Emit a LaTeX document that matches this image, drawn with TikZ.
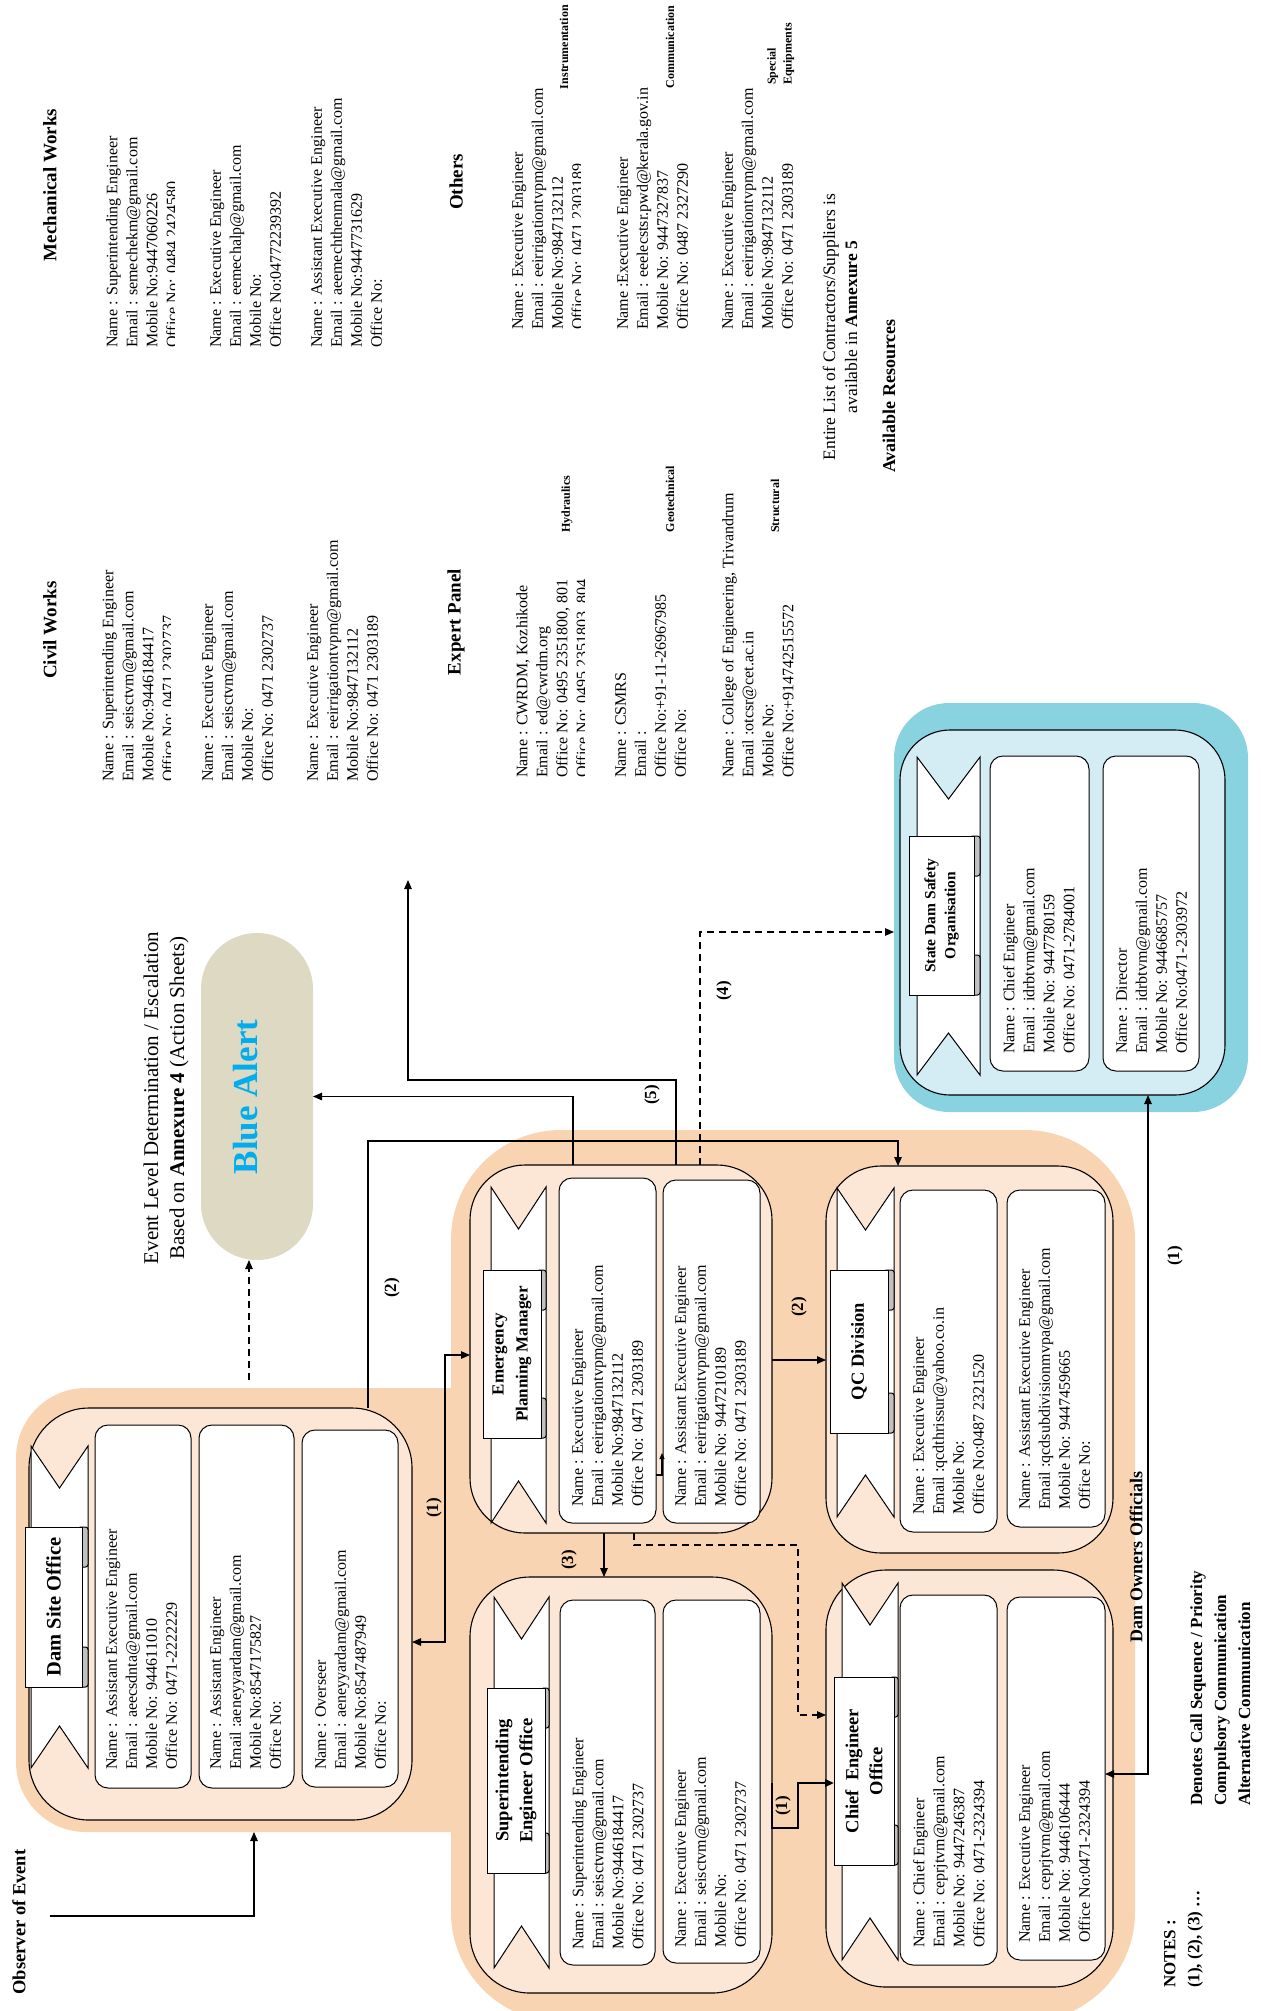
\documentclass[tikz,border=0pt]{standalone}
\usepackage{fontspec}
\setmainfont{Liberation Serif}
\usetikzlibrary{arrows.meta}
\definecolor{orangebg}{RGB}{249,212,178}
\definecolor{peach}{RGB}{252,231,215}
\definecolor{blueouter}{RGB}{137,211,224}
\definecolor{blueinner}{RGB}{212,236,243}
\definecolor{pillbg}{RGB}{221,217,194}
\definecolor{alertblue}{RGB}{0,174,239}
\definecolor{curlgray}{RGB}{192,192,192}
\tikzset{
 myline/.style={draw=black, line width=1pt},
 mybg/.style={fill=orangebg, anchor=north west, inner sep=0pt, outer sep=0pt},
 myinner/.style={draw=black, line width=1.1pt, fill=peach, anchor=north west, inner sep=0pt, outer sep=0pt},
 mytbox/.style={draw=black, line width=1pt, fill=white, rounded corners=13pt, anchor=north west, inner sep=0pt, outer sep=0pt},
 mypanel/.style={draw=black, line width=1pt, fill=white, anchor=north west, inner sep=0pt, outer sep=0pt},
 mytxt/.style={rotate=90, anchor=north west, align=left, inner sep=0pt, font=\fontsize{16}{20}\selectfont},
 myhead/.style={rotate=90, inner sep=0pt, font=\bfseries\fontsize{19}{23}\selectfont},
 mylab/.style={rotate=90, inner sep=0pt, font=\bfseries\fontsize{12}{16}\selectfont},
 mynum/.style={rotate=90, inner sep=0pt, font=\bfseries\fontsize{17}{20}\selectfont},
 mytitle/.style={rotate=90, align=center, inner sep=0pt},
 myconn/.style={line width=1.1pt},
 myarr/.style={myconn, -{Triangle[length=9pt,width=7.5pt]}},
 mydarr/.style={myarr, dash pattern=on 7pt off 5pt},
 myarrtwo/.style={myconn, {Triangle[length=9pt,width=7.5pt]}-{Triangle[length=9pt,width=7.5pt]}},
}
% name, tail left, tail right, tail top, tail bottom, panel left, panel right, panel top, panel bottom
\newcommand{\myribbon}[9]{%
 \draw[myline, fill=white] (#2,#4) -- ({(#2+#3)/2},{#4+42}) -- (#3,#4) -- (#3,#5) -- ({(#2+#3)/2},{#5-42}) -- (#2,#5) -- cycle;
 \draw[myline, fill=curlgray, rounded corners=2.5pt] ({#7-4},#8) rectangle (#3,{#8+40});
 \draw[myline, fill=curlgray, rounded corners=2.5pt] ({#7-4},{#9-40}) rectangle (#3,#9);
 \node[mypanel, minimum width={#7-#6}, minimum height={#9-#8}] (#1) at (#6,#8) {};
}
\newcommand{\mytb}[5]{\node[mytbox, minimum width=#4, minimum height=#5] (#1) at (#2,#3) {};}
\begin{document}
\begin{tikzpicture}[x=1pt,y=-1pt]
\useasboundingbox (0,0) rectangle (1261,2011);
\fill[white] (0,0) rectangle (1261,2011);

% ---------- headings of available resources ----------
\node[myhead] (hmech) at (50,185) {Mechanical Works};
\node[myhead] (hcivil) at (50,630) {Civil Works};
\node[myhead] (hothers) at (456,182) {Others};
\node[myhead] (hexpert) at (456,622) {Expert Panel};

% Mechanical works
\begin{scope}
\clip (90,60) rectangle (174,360);
\node[mytxt] (mech1) at (106,348) {Name : Superintending Engineer\\Email : semechekm@gmail.com\\Mobile No:9447060226\\Office No: 0484 2424580};
\end{scope}
\node[mytxt] (mech2) at (210,348) {Name : Executive Engineer\\Email : eemechalp@gmail.com\\Mobile No:\\Office No:04772239392};
\node[mytxt] (mech3) at (311,348) {Name : Assistant Executive Engineer\\Email : aeemechthenmala@gmail.com\\Mobile No:9447731629\\Office No:};

% Civil works
\begin{scope}
\clip (85,500) rectangle (170,800);
\node[mytxt] (civil1) at (102,782) {Name : Superintending Engineer\\Email : seisctvm@gmail.com\\Mobile No:9446184417\\Office No: 0471 2302737};
\end{scope}
\node[mytxt] (civil2) at (202,782) {Name : Executive Engineer\\Email : seisctvm@gmail.com\\Mobile No:\\Office No: 0471 2302737};
\node[mytxt] (civil3) at (307,782) {Name : Executive Engineer\\Email : eeirrigationtvpm@gmail.com\\Mobile No:9847132112\\Office No: 0471 2303189};

% Others
\begin{scope}
\clip (495,40) rectangle (580,345);
\node[mytxt] (oth1) at (512,330) {Name : Executive Engineer\\Email : eeirrigationtvpm@gmail.com\\Mobile No:9847132112\\Office No: 0471 2303189};
\end{scope}
\node[mytxt] (oth2) at (617,330) {Name :Executive Engineer\\Email : eeelecstsr.pwd@kerala.gov.in\\Mobile No: 9447327837\\Office No: 0487 2327290};
\node[mytxt] (oth3) at (722,330) {Name : Executive Engineer\\Email : eeirrigationtvpm@gmail.com\\Mobile No:9847132112\\Office No: 0471 2303189};
\node[mylab] (linstr) at (564,47) {Instrumentation};
\node[mylab] (lcomm) at (670,47) {Communication};
\node[mylab, anchor=north west, align=left] (lspec) at (767,85) {Special\\Equipments};

% Expert panel
\begin{scope}
\clip (500,450) rectangle (584,800);
\node[mytxt] (exp1) at (516,778) {Name : CWRDM, Kozhikode\\Email : ed@cwrdm.org\\Office No: 0495 2351800, 801\\Office No: 0495 2351803, 804};
\end{scope}
\node[mytxt] (exp2) at (615,778) {Name : CSMRS\\Email :\\Office No:+91-11-26967985\\Office No:};
\node[mytxt] (exp3) at (722,778) {Name : College of Engineering, Trivandrum\\Email :otcsr@cet.ac.in\\Mobile No:\\Office No:+914742515572};
\node[mylab] (lhyd) at (567,504) {Hydraulics};
\node[mylab] (lgeo) at (670,499) {Geotechnical};
\node[mylab] (lstr) at (775,506) {Structural};

\node[rotate=90, align=center, inner sep=0pt, font=\fontsize{17.5}{22}\selectfont] (entire) at (840,327) {Entire List of Contractors/Suppliers is\\available in \textbf{Annexure 5}};
\node[myhead, font=\bfseries\fontsize{18}{22}\selectfont] (avail) at (889,396) {Available Resources};

% ---------- Event level / Blue alert ----------
\node[rotate=90, align=center, inner sep=0pt, font=\fontsize{21}{26}\selectfont] (event) at (166,1098) {Event Level Determination / Escalation\\Based on \textbf{Annexure 4} (Action Sheets)};
\node[fill=pillbg, rounded corners=55.9pt, minimum width=112, minimum height=327, anchor=north west, inner sep=0pt, outer sep=0pt] (alert) at (201,933) {};
\node[rotate=90, inner sep=0pt, text=alertblue, font=\bfseries\fontsize{35}{40}\selectfont] (alerttxt) at (246,1097) {Blue Alert};

% ---------- backgrounds ----------
\node[fill=blueouter, rounded corners=55pt, minimum width=354, minimum height=409, anchor=north west, inner sep=0pt, outer sep=0pt] (sdsobg) at (894,703) {};
\node[mybg, rounded corners=70pt, minimum width=504, minimum height=444] (dsobg) at (16,1388) {};
\node[mybg, rounded corners=110pt, minimum width=684, minimum height=892] (owners) at (451,1130) {};

% ---------- office boxes ----------
\node[myinner, fill=blueinner, rounded corners=50pt, minimum width=325, minimum height=365] (sdso) at (900,730) {};
\node[myinner, rounded corners=60pt, minimum width=383, minimum height=412] (dso) at (29,1408) {};
\node[myinner, rounded corners=55pt, minimum width=302, minimum height=368] (epm) at (470,1165) {};
\node[myinner, rounded corners=55pt, minimum width=287, minimum height=387] (qc) at (826,1166) {};
\node[myinner, rounded corners=60pt, minimum width=302, minimum height=416] (seo) at (470,1577) {};
\node[myinner, rounded corners=60pt, minimum width=287, minimum height=417] (ceo) at (826,1570) {};

% text boxes
\mytb{dsob1}{95}{1425}{96}{363}
\mytb{dsob2}{199}{1425}{95}{363}
\mytb{dsob3}{302}{1430}{96}{357}
\mytb{epmb1}{559}{1178}{97}{345}
\mytb{epmb2}{663}{1180}{97}{343}
\mytb{qcb1}{900}{1190}{97}{342}
\mytb{qcb2}{1007}{1190}{98}{337}
\mytb{seob1}{560}{1600}{95}{365}
\mytb{seob2}{663}{1600}{97}{363}
\mytb{ceob1}{900}{1595}{97}{370}
\mytb{ceob2}{1007}{1597}{98}{363}
\mytb{sdsob1}{990}{756}{99}{315}
\mytb{sdsob2}{1103}{756}{96}{315}

% ribbons
\myribbon{dsopanel}{31}{88}{1446}{1768}{25}{82}{1527}{1687}
\myribbon{epmpanel}{491}{546}{1187}{1523}{483}{541}{1270}{1438}
\myribbon{qcpanel}{837}{894}{1188}{1517}{830}{888}{1270}{1433}
\myribbon{seopanel}{494}{549}{1597}{1968}{487}{545}{1688}{1873}
\myribbon{ceopanel}{842}{898}{1583}{1960}{834}{894}{1677}{1865}
\myribbon{sdsopanel}{917}{980}{757}{1075}{909}{974}{836}{995}

\node[mytitle, font=\bfseries\fontsize{20.5}{24}\selectfont] (dsotitle) at (dsopanel.center) {Dam Site Office};
\node[mytitle, font=\bfseries\fontsize{17}{24}\selectfont] (epmtitle) at (epmpanel.center) {Emergency\\Planning Manager};
\node[mytitle, font=\bfseries\fontsize{18.5}{24}\selectfont] (qctitle) at (qcpanel.center) {QC Division};
\node[mytitle, font=\bfseries\fontsize{18.5}{24}\selectfont] (seotitle) at (seopanel.center) {Superintending\\Engineer Office};
\node[mytitle, font=\bfseries\fontsize{18.5}{24}\selectfont] (ceotitle) at (ceopanel.center) {Chief~ Engineer\\Office};
\node[mytitle, font=\bfseries\fontsize{15.5}{20}\selectfont] (sdsotitle) at (sdsopanel.center) {State Dam Safety\\Organisation};

% texts in boxes
\node[mytxt] (dsot1) at (106,1770) {Name : Assistant Executive Engineer\\Email : aeecsdnta@gmail.com\\Mobile No: 944611010\\Office No: 0471-2222229};
\node[mytxt] (dsot2) at (210,1770) {Name : Assistant Engineer\\Email :aeneyyardam@gmail.com\\Mobile No:8547175827\\Office No:};
\node[mytxt] (dsot3) at (315,1770) {Name : Overseer\\Email : aeneyyardam@gmail.com\\Mobile No:8547487949\\Office No:};
\node[mytxt] (epmt1) at (572,1507) {Name : Executive Engineer\\Email : eeirrigationtvpm@gmail.com\\Mobile No:9847132112\\Office No: 0471 2303189};
\node[mytxt] (epmt2) at (675,1507) {Name : Assistant Executive Engineer\\Email : eeirrigationtvpm@gmail.com\\Mobile No: 9447210189\\Office No: 0471 2303189};
\node[mytxt] (qct1) at (913,1515) {Name : Executive Engineer\\Email :qcdthrissur@yahoo.co.in\\Mobile No:\\Office No:0487 2321520};
\node[mytxt] (qct2) at (1019,1510) {Name : Assistant Executive Engineer\\Email :qcdsubdivisionmvpa@gmail.com\\Mobile No: 9447459665\\Office No:};
\node[mytxt] (seot1) at (572,1950) {Name : Superintending Engineer\\Email : seisctvm@gmail.com\\Mobile No:9446184417\\Office No: 0471 2302737};
\node[mytxt] (seot2) at (675,1948) {Name : Executive Engineer\\Email : seisctvm@gmail.com\\Mobile No:\\Office No: 0471 2302737};
\node[mytxt] (ceot1) at (913,1948) {Name : Chief Engineer\\Email : ceprjtvm@gmail.com\\Mobile No: 9447246387\\Office No: 0471-2324394};
\node[mytxt] (ceot2) at (1019,1943) {Name : Executive Engineer\\Email : ceprjtvm@gmail.com\\Mobile No: 9446106444\\Office No:0471-2324394};
\node[mytxt] (sdsot1) at (1003,1054) {Name : Chief Engineer\\Email : idrbtvm@gmail.com\\Mobile No: 9447780159\\Office No: 0471-2784001};
\node[mytxt] (sdsot2) at (1116,1054) {Name : Director\\Email : idrbtvm@gmail.com\\Mobile No: 9446685757\\Office No:0471-2303972};

% other labels
\node[myhead, font=\bfseries\fontsize{18}{22}\selectfont] (ownlabel) at (1136,1557) {Dam Owners Officials};
\node[myhead, font=\bfseries\fontsize{18.5}{22}\selectfont] (obs) at (19,1922) {Observer of Event};
\node[mytxt, font=\bfseries\fontsize{17}{24}\selectfont] (notes) at (1164,1988) {NOTES :\\(1), (2), (3) …};
\node[mytxt, font=\bfseries\fontsize{17}{24}\selectfont] (legend) at (1190,1806) {Denotes Call Sequence / Priority\\Compulsory Communication\\Alternative Communication};

% ---------- connectors ----------
\coordinate (obsstart) at (50,1916);
\draw[myarr] (obsstart) -| (dsobg.south -| 254,0);
\coordinate (dashstart) at (249,1380);
\draw[mydarr] (dashstart) -- (alert.south -| dashstart);
\draw[myarr] (dso.north -| 368,0) -- (368,1141) -| (qc.north -| 898,0);
\draw[myarr] (epm.north -| 573,0) |- (alert.east);
\coordinate (pfiveend) at (408,880);
\draw[myarr] (epm.north -| 676,0) |- (pfiveend |- 0,1080) -- (pfiveend);
\draw[mydarr] (epm.north -| 700,0) |- (sdsobg.west |- 0,932);
\draw[myarrtwo] (dso.east |- 0,1642) -- (445,1642) |- (epm.west |- 0,1355);
\draw[myarr] (epm.south -| 604,0) -- (seo.north -| 604,0);
\draw[myarr] (epm.east |- 0,1360) -- (qc.west |- 0,1360);
\draw[mydarr] (epm.south -| 634,0) |- (798,1545) |- (ceo.west |- 0,1715);
\draw[myarr, line width=2.2pt] (seo.east |- 0,1783) -- (seo.east |- 0,1828) -- (798,1828) |- (ceopanel.west |- 0,1783);
\draw[myarrtwo] (ceob2.east |- 0,1774) -- (1148,1774) -- (sdso.south -| 1148,0);
\draw[myconn, -{Triangle[length=6pt,width=5pt]}] (epmb1.east |- 0,1475) -| (662,1453);

% connector labels
\node[mynum] (ltwoa) at (392,1288) {(2)};
\node[mynum] (lfive) at (652,1095) {(5)};
\node[mynum] (lfour) at (724,991) {(4)};
\node[mynum] (lonea) at (1175,1256) {(1)};
\node[mynum] (loneb) at (434,1508) {(1)};
\node[mynum] (lthree) at (569,1560) {(3)};
\node[mynum] (ltwob) at (799,1307) {(2)};
\node[mynum] (lonec) at (783,1806) {(1)};
\end{tikzpicture}
\end{document}
